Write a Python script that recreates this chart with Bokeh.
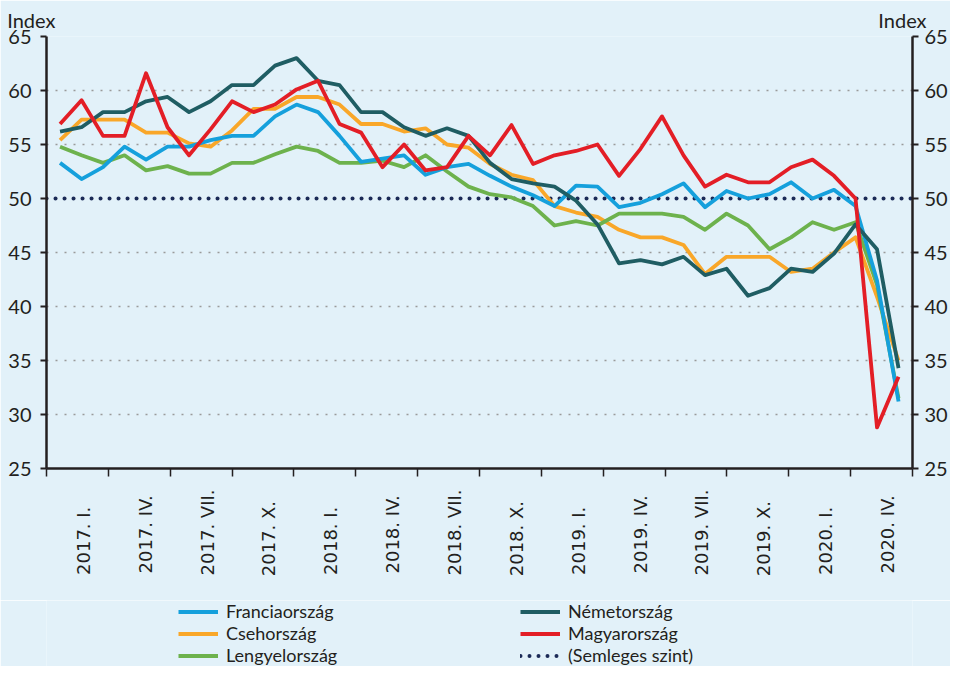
import math
from bokeh.plotting import figure
from bokeh.layouts import column
from bokeh.models import Range1d, FixedTicker, LinearAxis, Legend, LegendItem
from bokeh.embed import file_html
from bokeh.resources import INLINE

# ---- data (monthly, 2017 Jan .. 2020 Apr) ----
months = list(range(40))
quarter_labels = ["2017. I.", "2017. IV.", "2017. VII.", "2017. X.",
                  "2018. I.", "2018. IV.", "2018. VII.", "2018. X.",
                  "2019. I.", "2019. IV.", "2019. VII.", "2019. X.",
                  "2020. I.", "2020. IV."]
y_ticks = [25, 30, 35, 40, 45, 50, 55, 60, 65]
neutral = 50
unit_label = "Index"

france = [53.3, 51.8, 52.9, 54.8, 53.6, 54.8, 54.8, 55.4, 55.8, 55.8,
          57.6, 58.7, 58.0, 55.8, 53.4, 53.7, 54.0, 52.2, 52.9, 53.2,
          52.1, 51.1, 50.3, 49.3, 51.2, 51.1, 49.2, 49.6, 50.4, 51.4,
          49.2, 50.7, 50.0, 50.4, 51.5, 50.0, 50.8, 49.3, 42.4, 31.2]
czech = [55.4, 57.3, 57.3, 57.3, 56.1, 56.1, 55.1, 54.8, 56.3, 58.3,
         58.3, 59.4, 59.4, 58.7, 56.9, 56.9, 56.2, 56.5, 55.0, 54.7,
         53.2, 52.2, 51.7, 49.3, 48.7, 48.3, 47.1, 46.4, 46.4, 45.7,
         43.0, 44.6, 44.6, 44.6, 43.2, 43.5, 45.0, 46.4, 40.9, 35.0]
poland = [54.8, 54.0, 53.3, 54.0, 52.6, 53.0, 52.3, 52.3, 53.3, 53.3,
          54.1, 54.8, 54.4, 53.3, 53.3, 53.5, 52.9, 54.0, 52.5, 51.1,
          50.4, 50.1, 49.3, 47.5, 47.9, 47.5, 48.6, 48.6, 48.6, 48.3,
          47.1, 48.6, 47.5, 45.3, 46.4, 47.8, 47.1, 47.8, 42.0, 31.5]
germany = [56.2, 56.6, 58.0, 58.0, 59.0, 59.4, 58.0, 59.0, 60.5, 60.5,
           62.3, 63.0, 60.9, 60.5, 58.0, 58.0, 56.6, 55.8, 56.5, 55.8,
           53.3, 51.8, 51.4, 51.1, 49.8, 47.6, 44.0, 44.3, 43.9, 44.6,
           42.9, 43.5, 41.0, 41.7, 43.5, 43.2, 44.9, 47.6, 45.3, 34.3]
hungary = [56.9, 59.1, 55.8, 55.8, 61.6, 56.6, 54.0, 56.4, 59.0, 58.0,
           58.7, 60.1, 60.9, 56.9, 56.1, 52.9, 55.0, 52.6, 52.9, 55.8,
           54.0, 56.8, 53.2, 54.0, 54.4, 55.0, 52.1, 54.6, 57.6, 54.0,
           51.1, 52.2, 51.5, 51.5, 52.9, 53.6, 52.1, 50.0, 28.8, 33.5]

names = ["Franciaország", "Csehország", "Lengyelország", "Németország", "Magyarország"]
neutral_name = "(Semleges szint)"

# ---- styling ----
BG = "#E2F1F9"
INK = "#231F20"
colors = {"Franciaország": "#15A0DC", "Csehország": "#F9A729", "Lengyelország": "#6DB24D",
          "Németország": "#1F5D63", "Magyarország": "#E31E26"}
NAVY = "#1B2A57"
LW = 3.8
NLW = 4

x0 = -0.63
x1 = len(months) - 1 + 0.65
W, H1, H2 = 950, 600, 66
BL, BR = 46, 35
p = figure(width=W, height=H1, output_backend="svg", toolbar_location=None,
           x_range=Range1d(x0, x1), y_range=Range1d(y_ticks[0], y_ticks[-1]),
           min_border_left=BL, min_border_right=BR, min_border_top=36,
           min_border_bottom=H1 - 36 - 432)
p.background_fill_color = BG
p.border_fill_color = BG
p.outline_line_color = None

# bands of the category axis
nb = len(quarter_labels)
bw = (x1 - x0) / nb
px_per_unit = (W - BL - BR) / (x1 - x0)
shift = 6 / px_per_unit
centers = [x0 + (k + 0.5) * bw + shift for k in range(nb)]
bounds = [x0 + k * bw for k in range(nb + 1)]
pad = {"I.": 3, "IV.": 1, "VII.": 0, "X.": 2}
overrides = {}
for c, lab in zip(centers, quarter_labels):
    overrides[c] = lab + "\u00a0" * pad[lab.split(" ")[1]]

xa = p.xaxis[0]
xa.ticker = FixedTicker(ticks=centers, minor_ticks=bounds)
xa.major_label_overrides = overrides
xa.major_label_orientation = math.pi / 2
xa.major_tick_line_color = None
xa.major_tick_out = 8
xa.major_tick_in = 0
xa.minor_tick_line_color = INK
xa.minor_tick_line_width = 1.5
xa.minor_tick_out = 8
xa.minor_tick_in = 0
xa.axis_line_color = INK
xa.axis_line_width = 2.5
xa.major_label_text_font = "DejaVu Sans"
xa.major_label_text_font_size = "18px"
xa.major_label_text_color = INK
xa.major_label_standoff = 13

# "Index" over both value axes: an unlined axis above the plot
ta = LinearAxis(ticker=FixedTicker(ticks=[x0, x1]))
ta.major_label_overrides = {x0: unit_label + "\u2003\u00a0\u00a0\u00a0",
                            x1: unit_label + "\u2003\u00a0"}
ta.axis_line_color = None
ta.major_tick_line_color = None
ta.minor_tick_line_color = None
ta.major_tick_out = 0
ta.major_tick_in = 0
ta.major_label_standoff = 5
ta.major_label_text_font = "Lato"
ta.major_label_text_font_size = "20px"
ta.major_label_text_color = INK
p.add_layout(ta, "above")

def style_y(ax):
    ax.ticker = FixedTicker(ticks=y_ticks)
    ax.axis_line_color = INK
    ax.axis_line_width = 2.5
    ax.major_tick_line_color = INK
    ax.major_tick_line_width = 2
    ax.major_tick_out = 6
    ax.major_tick_in = 0
    ax.minor_tick_line_color = None
    ax.major_label_text_font = "Lato"
    ax.major_label_text_font_size = "20px"
    ax.major_label_text_color = INK

style_y(p.yaxis[0])
p.yaxis[0].major_label_standoff = 9
ry = LinearAxis()
style_y(ry)
ry.major_label_standoff = 6
p.add_layout(ry, "right")

p.xgrid.grid_line_color = None
p.ygrid.ticker = FixedTicker(ticks=y_ticks[1:])
p.ygrid.grid_line_color = "#9A9A9A"
p.ygrid.grid_line_width = 1.5
p.ygrid.grid_line_dash = "2 7"

# neutral level
p.line([x0, x1], [neutral, neutral], line_color=NAVY, line_width=NLW,
       line_dash="0 9", line_cap="round")

series = {"Franciaország": france, "Csehország": czech, "Lengyelország": poland,
          "Németország": germany, "Magyarország": hungary}
for nm in ["Csehország", "Lengyelország", "Franciaország", "Németország", "Magyarország"]:
    p.line(months, series[nm], line_color=colors[nm], line_width=LW, line_join="round")

# ---- legend strip under the chart (its own plot; data lie outside its view) ----
q = figure(width=W, height=H2, output_backend="svg", toolbar_location=None,
           x_range=Range1d(0, 1), y_range=Range1d(0, 1),
           x_axis_type=None, y_axis_type=None,
           min_border_left=BL, min_border_right=BR, min_border_top=0, min_border_bottom=0)
q.background_fill_color = BG
q.border_fill_color = BG
q.outline_line_color = None
proxy = {}
for nm in names:
    proxy[nm] = q.line(months, series[nm], line_color=colors[nm], line_width=LW)
proxy[neutral_name] = q.line([x0, x1], [neutral, neutral], line_color=NAVY, line_width=NLW,
                             line_dash="0 9", line_cap="round")

items = [LegendItem(label=n, renderers=[proxy[n]]) for n in names + [neutral_name]]
lg = Legend(items=items, location=(132, 0), orientation="vertical", nrows=3)
lg.background_fill_alpha = 0
lg.border_line_color = None
lg.padding = 0
lg.margin = 0
lg.spacing = 0
lg.glyph_width = 40
lg.glyph_height = 19
lg.label_height = 19
lg.label_width = 294
lg.label_standoff = 8
lg.label_text_font = "Lato"
lg.label_text_font_size = "18px"
lg.label_text_color = INK
q.add_layout(lg)

layout = column(p, q, spacing=0)
open("out.html", "w").write(file_html(layout, INLINE))
